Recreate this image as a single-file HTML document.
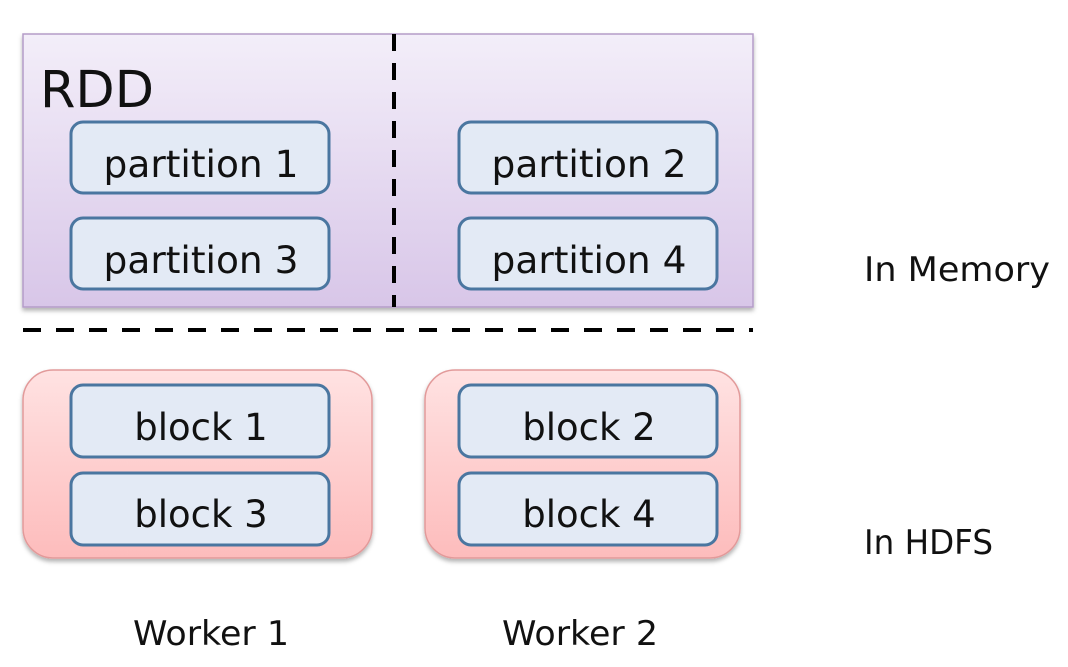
<!DOCTYPE html>
<html><head><meta charset="utf-8"><style>
html,body{margin:0;padding:0;background:#fff;width:1068px;height:667px;overflow:hidden}
text{font-family:"DejaVu Sans","Liberation Sans",sans-serif;fill:#111}
</style></head><body>
<svg width="1068" height="667" viewBox="0 0 1068 667" xmlns="http://www.w3.org/2000/svg">
<defs>
<linearGradient id="pu" x1="0" y1="0" x2="0" y2="1"><stop offset="0" stop-color="#f3eef9"/><stop offset="1" stop-color="#d8c6e8"/></linearGradient>
<linearGradient id="rd" x1="0" y1="0" x2="0" y2="1"><stop offset="0" stop-color="#ffe2e2"/><stop offset="1" stop-color="#fdbcbc"/></linearGradient>
<filter id="sh" x="-5%" y="-5%" width="110%" height="115%"><feDropShadow dx="0" dy="3" stdDeviation="2" flood-color="#000" flood-opacity="0.3"/></filter>
</defs>
<rect x="23" y="34" width="730" height="273" fill="url(#pu)" stroke="#b49cc8" stroke-width="1.5" filter="url(#sh)"/>
<line x1="394" y1="34" x2="394" y2="307" stroke="#000" stroke-width="4" stroke-dasharray="17,12"/>
<line x1="23" y1="330" x2="753" y2="330" stroke="#000" stroke-width="4" stroke-dasharray="18,15"/>
<text x="40" y="107" font-size="51">RDD</text>
<g fill="#e3eaf5" stroke="#4a76a0" stroke-width="3">
<rect x="71" y="122" width="258" height="71" rx="12"/>
<rect x="71" y="218" width="258" height="71" rx="12"/>
<rect x="459" y="122" width="258" height="71" rx="12"/>
<rect x="459" y="218" width="258" height="71" rx="12"/>
</g>
<rect x="23" y="370" width="349" height="188" rx="30" fill="url(#rd)" stroke="#e29a9a" stroke-width="1.5" filter="url(#sh)"/>
<rect x="425" y="370" width="315" height="188" rx="30" fill="url(#rd)" stroke="#e29a9a" stroke-width="1.5" filter="url(#sh)"/>
<g fill="#e3eaf5" stroke="#4a76a0" stroke-width="3">
<rect x="71" y="385" width="258" height="72" rx="12"/>
<rect x="71" y="473" width="258" height="72" rx="12"/>
<rect x="459" y="385" width="258" height="72" rx="12"/>
<rect x="459" y="473" width="258" height="72" rx="12"/>
</g>
<g font-size="37.5" text-anchor="middle">
<text x="201" y="177">partition 1</text>
<text x="201" y="273">partition 3</text>
<text x="589" y="177">partition 2</text>
<text x="589" y="273">partition 4</text>
</g>
<g font-size="37" text-anchor="middle">
<text x="201" y="440">block 1</text>
<text x="201" y="527">block 3</text>
<text x="589" y="440">block 2</text>
<text x="589" y="527">block 4</text>
</g>
<g font-size="34">
<text x="864" y="281" textLength="186" lengthAdjust="spacingAndGlyphs">In Memory</text>
<text x="864" y="554" textLength="129" lengthAdjust="spacingAndGlyphs">In HDFS</text>
<text x="133" y="645" textLength="156" lengthAdjust="spacingAndGlyphs">Worker 1</text>
<text x="502" y="645" textLength="156" lengthAdjust="spacingAndGlyphs">Worker 2</text>
</g>
</svg>
</body></html>
